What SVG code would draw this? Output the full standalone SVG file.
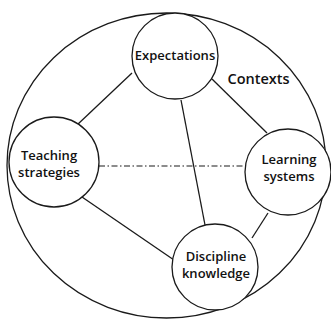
<svg xmlns="http://www.w3.org/2000/svg" width="331" height="320" viewBox="0 0 331 320">
<style>
.c{fill:#fff;stroke:#1a1a1a;stroke-width:1.3}
.o{fill:none;stroke:#1a1a1a;stroke-width:1.3}
.l{stroke:#1a1a1a;stroke-width:1.3;fill:none}
.d{stroke:#1a1a1a;stroke-width:1.2;fill:none;stroke-dasharray:6 2.5 1.5 2.5}
text{font-family:"Open Sans","Liberation Sans",sans-serif;font-size:13px;font-weight:600;fill:#111;text-anchor:middle}
</style>
<rect width="331" height="320" fill="#fff"/>
<ellipse id="contexts-boundary" class="o" cx="166.5" cy="165.5" rx="159.5" ry="152.5"/>
<g id="connectors">
<line class="l" x1="132" y1="73" x2="77" y2="125"/>
<line class="l" x1="212" y1="79" x2="267" y2="133"/>
<line class="l" x1="181" y1="100" x2="205" y2="225"/>
<line class="l" x1="82" y1="197" x2="174" y2="260"/>
<line class="l" x1="268" y1="213" x2="252" y2="238"/>
<line class="d" x1="99" y1="166" x2="246" y2="166"/>
</g>
<g id="expectations"><circle class="c" cx="175" cy="56" r="43"/><text x="175" y="60">Expectations</text></g>
<g id="teaching"><circle class="c" cx="54" cy="162" r="45"/><text x="49" y="160">Teaching</text><text x="49" y="177">strategies</text></g>
<g id="learning"><circle class="c" cx="288" cy="172" r="43"/><text x="289" y="164">Learning</text><text x="289" y="181">systems</text></g>
<g id="discipline"><circle class="c" cx="215" cy="267" r="43"/><text x="216" y="261">Discipline</text><text x="216" y="278">knowledge</text></g>
<text id="contexts-label" x="258.5" y="84" style="font-size:14.5px">Contexts</text>
</svg>
